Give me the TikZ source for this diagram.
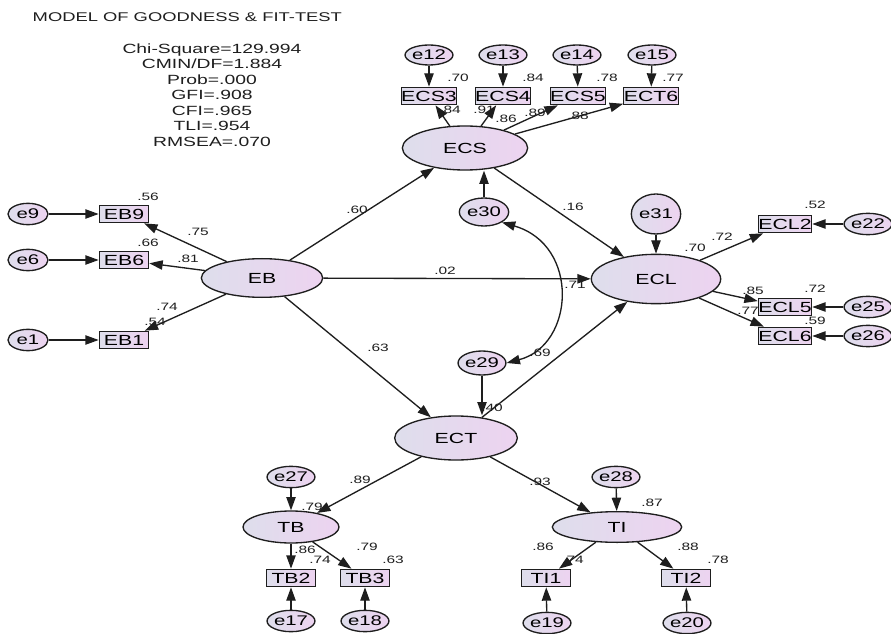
\documentclass[tikz,border=0pt]{standalone}
\usepackage{fontspec}
\setmainfont{Liberation Sans}[FakeStretch=1.45]
\usetikzlibrary{arrows.meta,shapes.geometric}

\definecolor{lvgrey}{HTML}{DEDEEC}
\definecolor{lvpink}{HTML}{EDD3F0}
\definecolor{ink}{HTML}{1E1E1E}

\tikzset{
  amosfill/.style={left color=lvgrey, right color=lvpink, draw=ink, line width=1pt},
  latent/.style={amosfill, ellipse, inner sep=0pt, font=\fontsize{11}{13}\selectfont},
  obs/.style={amosfill, rectangle, inner sep=0pt, minimum width=37pt, minimum height=13pt,
    font=\fontsize{11}{13}\selectfont},
  err/.style={amosfill, ellipse, inner sep=0pt, minimum width=28pt, minimum height=16pt,
    font=\fontsize{10.5}{12}\selectfont},
  reg/.style={draw=ink, line width=1pt, -{Triangle[length=10pt,width=7pt]}},
  cov/.style={draw=ink, line width=1pt, {Triangle[length=10pt,width=7pt]}-{Triangle[length=10pt,width=7pt]}},
  coef/.style={font=\fontsize{8}{9}\selectfont, inner sep=0pt, text=ink},
}

\begin{document}
\begin{tikzpicture}[x=0.75pt, y=-0.75pt]
  \fill[white] (0,0) rectangle (891,634);
  \useasboundingbox (0,0) rectangle (891,634);

  % Fit summary
  \node[anchor=west, text=ink, font=\fontsize{9.5}{11}\selectfont] (title) at (28,17)
    {MODEL OF GOODNESS \& FIT-TEST};
  \node[align=center, text=ink, font=\fontsize{10}{11.6}\selectfont] (fit) at (212,95)
    {Chi-Square=129.994\\CMIN/DF=1.884\\Prob=.000\\GFI=.908\\CFI=.965\\TLI=.954\\RMSEA=.070};

  % Latent variables
  \node[latent, minimum width=91pt, minimum height=29pt] (EB)  at (262,278) {EB};
  \node[latent, minimum width=94pt, minimum height=33pt] (ECS) at (465,148) {ECS};
  \node[latent, minimum width=97pt, minimum height=37pt] (ECL) at (656,279) {ECL};
  \node[latent, minimum width=92pt, minimum height=33pt] (ECT) at (456,438) {ECT};
  \node[latent, minimum width=72pt, minimum height=24pt] (TB)  at (291,527) {TB};
  \node[latent, minimum width=97pt, minimum height=23pt] (TI)  at (617,527) {TI};

  % Indicators
  \node[obs] (EB9) at (124,214) {EB9};
  \node[obs] (EB6) at (124,260) {EB6};
  \node[obs] (EB1) at (124,340) {EB1};
  \node[obs] (ECS3) at (429,96) {ECS3};
  \node[obs] (ECS4) at (503,96) {ECS4};
  \node[obs] (ECS5) at (578,96) {ECS5};
  \node[obs] (ECT6) at (651,96) {ECT6};
  \node[obs] (ECL2) at (785,224) {ECL2};
  \node[obs] (ECL5) at (785,307) {ECL5};
  \node[obs] (ECL6) at (785,336) {ECL6};
  \node[obs] (TB2) at (291,578) {TB2};
  \node[obs] (TB3) at (365,578) {TB3};
  \node[obs] (TI1) at (546,578) {TI1};
  \node[obs] (TI2) at (686,578) {TI2};

  % Error terms
  \node[err, minimum width=30pt] (e9) at (28,214) {e9};
  \node[err, minimum width=30pt] (e6) at (28,260) {e6};
  \node[err, minimum width=30pt] (e1) at (28,340) {e1};
  \node[err, minimum height=15pt] (e12) at (429,55) {e12};
  \node[err, minimum height=15pt] (e13) at (503,55) {e13};
  \node[err, minimum height=15pt] (e14) at (577,55) {e14};
  \node[err, minimum height=15pt] (e15) at (652,55) {e15};
  \node[err, minimum width=30pt] (e22) at (868,224) {e22};
  \node[err, minimum width=30pt] (e25) at (868,307) {e25};
  \node[err, minimum width=30pt] (e26) at (868,336) {e26};
  \node[err, minimum width=37pt, minimum height=21pt] (e30) at (484,212) {e30};
  \node[err, minimum width=32pt, minimum height=18pt] (e29) at (482,363) {e29};
  \node[err, minimum width=37pt, minimum height=30pt] (e31) at (656,214) {e31};
  \node[err] (e27) at (291,477) {e27};
  \node[err] (e28) at (616,477) {e28};
  \node[err, minimum width=32pt] (e17) at (291,621) {e17};
  \node[err, minimum width=32pt] (e18) at (365,621) {e18};
  \node[err, minimum width=32pt] (e19) at (547,623) {e19};
  \node[err, minimum width=32pt] (e20) at (687,623) {e20};

  % Estimates
  \node[coef] (c1)  at (148,197) {.56};
  \node[coef] (c2)  at (198,232) {.75};
  \node[coef] (c3)  at (148,243) {.66};
  \node[coef] (c4)  at (188,259) {.81};
  \node[coef] (c5)  at (167,307) {.74};
  \node[coef] (c6)  at (155,322) {.54};
  \node[coef] (c7)  at (458,78) {.70};
  \node[coef] (c8)  at (533,78) {.84};
  \node[coef] (c9)  at (607,78) {.78};
  \node[coef] (c10) at (673,78) {.77};
  \node[coef] (c11) at (450,110) {.84};
  \node[coef] (c12) at (484,110) {.91};
  \node[coef] (c13) at (506,119) {.86};
  \node[coef] (c14) at (535,113) {.89};
  \node[coef] (c15) at (578,116) {.88};
  \node[coef] (c16) at (357,210) {.60};
  \node[coef] (c17) at (445,271) {.02};
  \node[coef] (c18) at (378,348) {.63};
  \node[coef] (c19) at (573,207) {.16};
  \node[coef] (c20) at (575,285) {.71};
  \node[coef] (c21) at (540,353) {.69};
  \node[coef] (c22) at (492,408) {.40};
  \node[coef] (c23) at (695,248) {.70};
  \node[coef] (c24) at (722,237) {.72};
  \node[coef] (c25) at (815,205) {.52};
  \node[coef] (c26) at (753,291) {.85};
  \node[coef] (c27) at (815,289) {.72};
  \node[coef] (c28) at (748,311) {.77};
  \node[coef] (c29) at (815,321) {.59};
  \node[coef] (c30) at (360,480) {.89};
  \node[coef] (c31) at (312,507) {.79};
  \node[coef] (c32) at (305,550) {.86};
  \node[coef] (c33) at (320,560) {.74};
  \node[coef] (c34) at (367,547) {.79};
  \node[coef] (c35) at (393,560) {.63};
  \node[coef] (c36) at (540,482) {.93};
  \node[coef] (c37) at (652,503) {.87};
  \node[coef] (c38) at (543,547) {.86};
  \node[coef] (c39) at (573,560) {.74};
  \node[coef] (c40) at (688,547) {.88};
  \node[coef] (c41) at (718,560) {.78};

  % Structural paths
  \draw[reg] (EB) -- (ECS);
  \draw[reg] (EB) -- (ECL);
  \draw[reg] (EB) -- (ECT);
  \draw[reg] (ECS) -- (ECL);
  \draw[reg] (ECT) -- (ECL);
  \draw[reg] (ECT) -- (TB);
  \draw[reg] (ECT) -- (TI);
  \draw[reg] (e30) -- (e30 |- ECS.south);
  \draw[reg] (e29) -- (e29 |- ECT.north);
  \draw[reg] (e31) -- (ECL);
  \draw[reg] (e27) -- (TB);
  \draw[reg] (e28) -- (TI);
  \draw[cov] (e30.south east) .. controls (580,245) and (575,345) .. (e29.east);

  % Measurement paths
  \foreach \ind in {EB9,EB6,EB1} \draw[reg] (EB) -- (\ind);
  \foreach \ind in {ECS3,ECS4,ECS5,ECT6} \draw[reg] (ECS) -- (\ind);
  \foreach \ind in {ECL2,ECL5,ECL6} \draw[reg] (ECL) -- (\ind);
  \draw[reg] (TB) -- (TB2);
  \draw[reg] (TB) -- (TB3);
  \draw[reg] (TI) -- (TI1);
  \draw[reg] (TI) -- (TI2);

  % Error arrows
  \draw[reg] (e9) -- (EB9);
  \draw[reg] (e6) -- (EB6);
  \draw[reg] (e1) -- (EB1);
  \draw[reg] (e12) -- (ECS3);
  \draw[reg] (e13) -- (ECS4);
  \draw[reg] (e14) -- (ECS5);
  \draw[reg] (e15) -- (ECT6);
  \draw[reg] (e22) -- (ECL2);
  \draw[reg] (e25) -- (ECL5);
  \draw[reg] (e26) -- (ECL6);
  \draw[reg] (e17) -- (TB2);
  \draw[reg] (e18) -- (TB3);
  \draw[reg] (e19) -- (TI1);
  \draw[reg] (e20) -- (TI2);
\end{tikzpicture}
\end{document}
